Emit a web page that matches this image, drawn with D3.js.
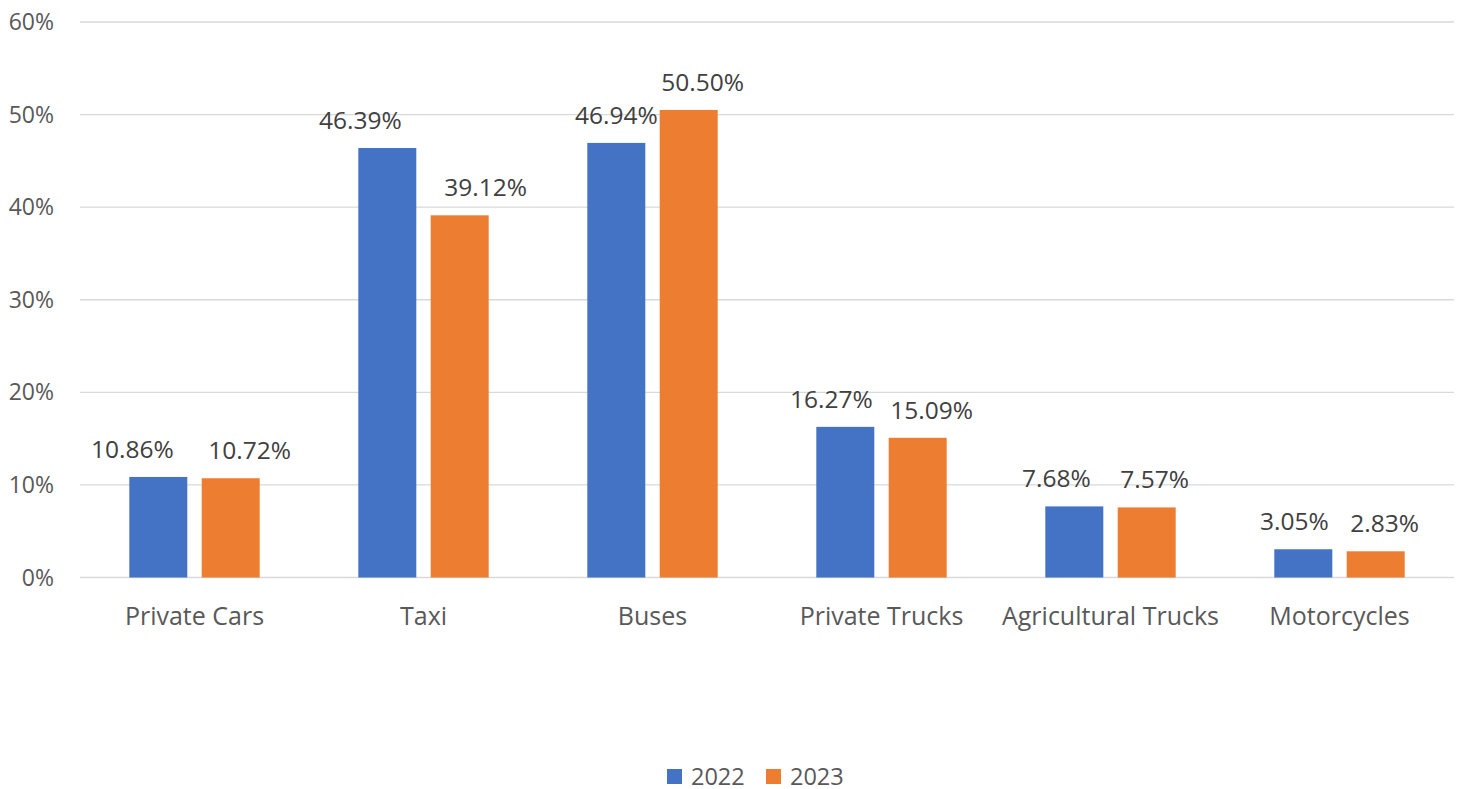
<!DOCTYPE html>
<html>
<head>
<meta charset="utf-8">
<script src="https://cdn.jsdelivr.net/npm/d3@7"></script>
<style>
  body { margin: 0; background: #fff; }
  svg text { font-family: "Open Sans", sans-serif; }
</style>
</head>
<body>
<svg id="chart"></svg>
<script>
const categories = ["Private Cars", "Taxi", "Buses", "Private Trucks", "Agricultural Trucks", "Motorcycles"];
const seriesNames = ["2022", "2023"];
const values2022 = [10.86, 46.39, 46.94, 16.27, 7.68, 3.05];
const values2023 = [10.72, 39.12, 50.50, 15.09, 7.57, 2.83];
const yTicks = [0, 10, 20, 30, 40, 50, 60];
const colors = ["#4472C4", "#ED7D31"];

// label nudges (px) so neighbouring data labels don't collide
const labelDx2022 = [-26, -27, 0, -14, -18, -9];
const labelDx2023 = [19, 26, 14, 14, 8, 9];

const width = 1466, height = 789;
const margin = {top: 22, right: 12, bottom: 211.5, left: 80};
const innerW = width - margin.left - margin.right;
const innerH = height - margin.top - margin.bottom;

const svg = d3.select("#chart").attr("width", width).attr("height", height);
const g = svg.append("g").attr("transform", `translate(${margin.left},${margin.top})`);

const x = d3.scaleBand().domain(categories).range([0, innerW]).paddingInner(0).paddingOuter(0);
const y = d3.scaleLinear().domain([0, 60]).range([innerH, 0]);

const barW = 58, gap = 14.4;

// gridlines
g.selectAll("line.grid")
    .data(yTicks)
    .join("line")
    .attr("class", "grid")
    .attr("x1", 0).attr("x2", innerW)
    .attr("y1", d => y(d)).attr("y2", d => y(d))
    .attr("stroke", "#d9d9d9")
    .attr("stroke-width", 1.3);

// y tick labels
g.selectAll("text.ytick")
    .data(yTicks)
    .join("text")
    .attr("class", "ytick")
    .attr("x", -26)
    .attr("y", d => y(d))
    .attr("dy", "0.35em")
    .attr("text-anchor", "end")
    .attr("fill", "#595959")
    .attr("font-size", 23)
    .text(d => d + "%");

const series = [values2022, values2023];
const nudges = [labelDx2022, labelDx2023];
series.forEach((vals, si) => {
    const offset = si === 0 ? -(gap / 2 + barW) : gap / 2;
    const data = categories.map((c, i) => ({c, v: vals[i], dx: nudges[si][i]}));
    g.selectAll(`rect.s${si}`)
        .data(data)
        .join("rect")
        .attr("class", `s${si}`)
        .attr("x", d => x(d.c) + x.bandwidth() / 2 + offset)
        .attr("y", d => y(d.v))
        .attr("width", barW)
        .attr("height", d => innerH - y(d.v))
        .attr("fill", colors[si]);
    g.selectAll(`text.l${si}`)
        .data(data)
        .join("text")
        .attr("class", `l${si}`)
        .attr("x", d => x(d.c) + x.bandwidth() / 2 + offset + barW / 2 + d.dx)
        .attr("y", d => y(d.v) - 19)
        .attr("text-anchor", "middle")
        .attr("fill", "#404040")
        .attr("font-size", 24.5)
        .text(d => d.v.toFixed(2) + "%");
});

// category labels
g.selectAll("text.xcat")
    .data(categories)
    .join("text")
    .attr("class", "xcat")
    .attr("x", d => x(d) + x.bandwidth() / 2)
    .attr("y", innerH + 47.5)
    .attr("text-anchor", "middle")
    .attr("fill", "#595959")
    .attr("font-size", 25)
    .text(d => d);

// legend
const legend = svg.append("g");
const legendX = [667, 766];
seriesNames.forEach((s, i) => {
    legend.append("rect")
        .attr("x", legendX[i]).attr("y", 769)
        .attr("width", 15).attr("height", 15)
        .attr("fill", colors[i]);
    legend.append("text")
        .attr("x", legendX[i] + 24).attr("y", 784.5)
        .attr("fill", "#595959")
        .attr("font-size", 23.5)
        .text(s);
});
</script>
</body>
</html>
